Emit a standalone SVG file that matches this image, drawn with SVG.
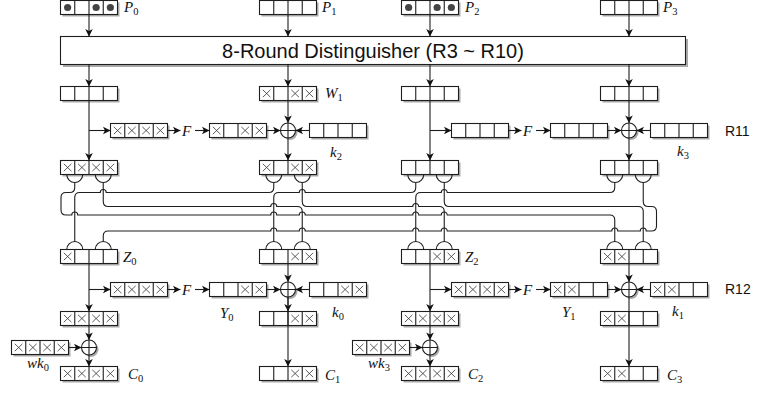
<svg xmlns="http://www.w3.org/2000/svg" width="757" height="396" viewBox="0 0 757 396">
<style>
.ln{fill:none;stroke:#1e1e1e;stroke-width:1.1}
.ar{fill:none;stroke:#1e1e1e;stroke-width:1.1;marker-end:url(#ah)}
.m{font-family:"Liberation Serif","DejaVu Serif",serif;font-style:italic;font-size:15px;fill:#111}
.s{font-style:normal;font-size:10.5px}
.t{font-family:"Liberation Sans",Arial,sans-serif;fill:#111}
</style>
<defs>
<marker id="ah" viewBox="-8 -4.5 9 9" refX="0" refY="0" markerWidth="9" markerHeight="9" markerUnits="userSpaceOnUse" orient="auto"><path d="M0,0 L-7.5,-3.8 L-5.6,0 L-7.5,3.8Z" fill="#111"/></marker>
<g id="bx"><rect x="2" y="2" width="57" height="14" fill="#aaa"/><rect width="57" height="14" fill="#fff" stroke="#1e1e1e" stroke-width="1.1"/><path d="M14.25 0V14M28.5 0V14M42.75 0V14" stroke="#1e1e1e" stroke-width="1.1"/></g>
<path id="x" d="M3.3 3.3L10.95 10.7M10.95 3.3L3.3 10.7" stroke="#333" stroke-width="0.8" fill="none"/>
<circle id="dt" cx="7.125" cy="7" r="3.6" fill="#444"/>
<g id="xo"><circle cx="2" cy="2" r="7.5" fill="#aaa"/><circle r="7.5" fill="#fff" stroke="#1e1e1e" stroke-width="1.1"/><path d="M-7.5 0H7.5M0 -7.5V7.5" stroke="#1e1e1e" stroke-width="1.1"/></g>
</defs>
<rect width="757" height="396" fill="#fff"/>

<!-- Row 1 -->
<g id="P0"><use href="#bx" x="60.5" y="0.5"/><use href="#dt" x="60.5" y="0.5"/><use href="#dt" x="89" y="0.5"/><use href="#dt" x="103.25" y="0.5"/><text class="m" x="124" y="12">P<tspan class="s" dy="3">0</tspan></text></g>
<g id="P1"><use href="#bx" x="259.5" y="0.5"/><text class="m" x="322" y="12">P<tspan class="s" dy="3">1</tspan></text></g>
<g id="P2"><use href="#bx" x="401.5" y="0.5"/><use href="#dt" x="401.5" y="0.5"/><use href="#dt" x="430" y="0.5"/><use href="#dt" x="444.25" y="0.5"/><text class="m" x="465" y="12">P<tspan class="s" dy="3">2</tspan></text></g>
<g id="P3"><use href="#bx" x="600.5" y="0.5"/><text class="m" x="663" y="12">P<tspan class="s" dy="3">3</tspan></text></g>

<g id="dist"><rect x="63" y="39" width="625" height="28" fill="#aaa"/><rect x="60.5" y="36.5" width="625" height="28" fill="#fff" stroke="#1e1e1e" stroke-width="1.1"/><text class="t" x="373" y="57.5" font-size="20" text-anchor="middle">8-Round Distinguisher (R3 ~ R10)</text></g>

<!-- Row 2 -->
<g id="r2c0"><use href="#bx" x="60.5" y="86.5"/></g>
<g id="W1"><use href="#bx" x="259.5" y="86.5"/><use href="#x" x="259.5" y="86.5"/><use href="#x" x="288" y="86.5"/><use href="#x" x="302.25" y="86.5"/><text class="m" x="325" y="98">W<tspan class="s" dy="3">1</tspan></text></g>
<g id="r2c2"><use href="#bx" x="401.5" y="86.5"/></g>
<g id="r2c3"><use href="#bx" x="600.5" y="86.5"/></g>

<!-- R11 F row -->
<g id="r11in0"><use href="#bx" x="110.5" y="123.5"/><use href="#x" x="110.5" y="123.5"/><use href="#x" x="124.75" y="123.5"/><use href="#x" x="139" y="123.5"/><use href="#x" x="153.25" y="123.5"/></g>
<g id="r11F0"><text class="m" x="182" y="136">F</text></g>
<g id="r11out0"><use href="#bx" x="209.5" y="123.5"/><use href="#x" x="209.5" y="123.5"/><use href="#x" x="238" y="123.5"/><use href="#x" x="252.25" y="123.5"/></g>
<g id="r11xor1"><use href="#xo" x="288" y="130.5"/></g>
<g id="k2"><use href="#bx" x="309.5" y="123.5"/><text class="m" x="330" y="157">k<tspan class="s" dy="3">2</tspan></text></g>
<g id="r11in2"><use href="#bx" x="451.5" y="123.5"/></g>
<g id="r11F2"><text class="m" x="523" y="136">F</text></g>
<g id="r11out2"><use href="#bx" x="550.5" y="123.5"/></g>
<g id="r11xor3"><use href="#xo" x="629" y="130.5"/></g>
<g id="k3"><use href="#bx" x="650.5" y="123.5"/><text class="m" x="677" y="156">k<tspan class="s" dy="3">3</tspan></text></g>
<g id="R11"><text class="t" x="725" y="135.5" font-size="14">R11</text></g>

<!-- Row 4 -->
<g id="r4c0"><use href="#bx" x="60.5" y="160.5"/><use href="#x" x="60.5" y="160.5"/><use href="#x" x="74.75" y="160.5"/><use href="#x" x="89" y="160.5"/><use href="#x" x="103.25" y="160.5"/></g>
<g id="r4c1"><use href="#bx" x="259.5" y="160.5"/><use href="#x" x="259.5" y="160.5"/><use href="#x" x="288" y="160.5"/><use href="#x" x="302.25" y="160.5"/></g>
<g id="r4c2"><use href="#bx" x="401.5" y="160.5"/></g>
<g id="r4c3"><use href="#bx" x="600.5" y="160.5"/></g>

<!-- Row 5 -->
<g id="Z0"><use href="#bx" x="60.5" y="249.5"/><use href="#x" x="60.5" y="249.5"/><text class="m" x="123" y="262">Z<tspan class="s" dy="3">0</tspan></text></g>
<g id="r5c1"><use href="#bx" x="259.5" y="249.5"/><use href="#x" x="288" y="249.5"/><use href="#x" x="302.25" y="249.5"/></g>
<g id="Z2"><use href="#bx" x="401.5" y="249.5"/><use href="#x" x="430" y="249.5"/><use href="#x" x="444.25" y="249.5"/><text class="m" x="465" y="261.5">Z<tspan class="s" dy="3">2</tspan></text></g>
<g id="r5c3"><use href="#bx" x="600.5" y="249.5"/><use href="#x" x="600.5" y="249.5"/><use href="#x" x="614.75" y="249.5"/></g>

<!-- R12 F row -->
<g id="r12in0"><use href="#bx" x="110.5" y="282.5"/><use href="#x" x="110.5" y="282.5"/><use href="#x" x="124.75" y="282.5"/><use href="#x" x="139" y="282.5"/><use href="#x" x="153.25" y="282.5"/></g>
<g id="r12F0"><text class="m" x="182" y="295">F</text></g>
<g id="Y0"><use href="#bx" x="209.5" y="282.5"/><use href="#x" x="238" y="282.5"/><use href="#x" x="252.25" y="282.5"/><text class="m" x="220" y="318">Y<tspan class="s" dy="3">0</tspan></text></g>
<g id="r12xor1"><use href="#xo" x="288" y="289.5"/></g>
<g id="k0"><use href="#bx" x="309.5" y="282.5"/><use href="#x" x="338" y="282.5"/><use href="#x" x="352.25" y="282.5"/><text class="m" x="332" y="317">k<tspan class="s" dy="3">0</tspan></text></g>
<g id="r12in2"><use href="#bx" x="451.5" y="282.5"/><use href="#x" x="451.5" y="282.5"/><use href="#x" x="465.75" y="282.5"/><use href="#x" x="480" y="282.5"/><use href="#x" x="494.25" y="282.5"/></g>
<g id="r12F2"><text class="m" x="523" y="295">F</text></g>
<g id="Y1"><use href="#bx" x="550.5" y="282.5"/><use href="#x" x="550.5" y="282.5"/><use href="#x" x="564.75" y="282.5"/><text class="m" x="562" y="317">Y<tspan class="s" dy="3">1</tspan></text></g>
<g id="r12xor3"><use href="#xo" x="629" y="289.5"/></g>
<g id="k1"><use href="#bx" x="650.5" y="282.5"/><use href="#x" x="650.5" y="282.5"/><use href="#x" x="664.75" y="282.5"/><text class="m" x="672" y="316">k<tspan class="s" dy="3">1</tspan></text></g>
<g id="R12"><text class="t" x="725" y="294" font-size="14">R12</text></g>

<!-- Row 7 -->
<g id="r7c0"><use href="#bx" x="60.5" y="311.5"/><use href="#x" x="60.5" y="311.5"/><use href="#x" x="74.75" y="311.5"/><use href="#x" x="89" y="311.5"/><use href="#x" x="103.25" y="311.5"/></g>
<g id="r7c1"><use href="#bx" x="259.5" y="311.5"/><use href="#x" x="288" y="311.5"/><use href="#x" x="302.25" y="311.5"/></g>
<g id="r7c2"><use href="#bx" x="401.5" y="311.5"/><use href="#x" x="401.5" y="311.5"/><use href="#x" x="415.75" y="311.5"/><use href="#x" x="430" y="311.5"/><use href="#x" x="444.25" y="311.5"/></g>
<g id="r7c3"><use href="#bx" x="600.5" y="311.5"/><use href="#x" x="600.5" y="311.5"/><use href="#x" x="614.75" y="311.5"/></g>

<!-- Whitening -->
<g id="wxor0"><use href="#xo" x="89" y="347.5"/></g>
<g id="wk0"><use href="#bx" x="11.5" y="340.5"/><use href="#x" x="11.5" y="340.5"/><use href="#x" x="25.75" y="340.5"/><use href="#x" x="40" y="340.5"/><use href="#x" x="54.25" y="340.5"/><text class="m" x="27" y="368">wk<tspan class="s" dy="3">0</tspan></text></g>
<g id="wxor2"><use href="#xo" x="430" y="347.5"/></g>
<g id="wk3"><use href="#bx" x="352.5" y="340.5"/><use href="#x" x="352.5" y="340.5"/><use href="#x" x="366.75" y="340.5"/><use href="#x" x="381" y="340.5"/><use href="#x" x="395.25" y="340.5"/><text class="m" x="368" y="368">wk<tspan class="s" dy="3">3</tspan></text></g>

<!-- Outputs -->
<g id="C0"><use href="#bx" x="60.5" y="366.5"/><use href="#x" x="60.5" y="366.5"/><use href="#x" x="74.75" y="366.5"/><use href="#x" x="89" y="366.5"/><use href="#x" x="103.25" y="366.5"/><text class="m" x="128" y="379">C<tspan class="s" dy="3">0</tspan></text></g>
<g id="C1"><use href="#bx" x="259.5" y="366.5"/><use href="#x" x="288" y="366.5"/><use href="#x" x="302.25" y="366.5"/><text class="m" x="325" y="380">C<tspan class="s" dy="3">1</tspan></text></g>
<g id="C2"><use href="#bx" x="401.5" y="366.5"/><use href="#x" x="401.5" y="366.5"/><use href="#x" x="415.75" y="366.5"/><use href="#x" x="430" y="366.5"/><use href="#x" x="444.25" y="366.5"/><text class="m" x="468" y="379">C<tspan class="s" dy="3">2</tspan></text></g>
<g id="C3"><use href="#bx" x="600.5" y="366.5"/><use href="#x" x="600.5" y="366.5"/><use href="#x" x="614.75" y="366.5"/><text class="m" x="667" y="380">C<tspan class="s" dy="3">3</tspan></text></g>

<g id="connectors">
<path class="ar" d="M89 14.5V36.5"/><path class="ar" d="M288 14.5V36.5"/><path class="ar" d="M430 14.5V36.5"/><path class="ar" d="M629 14.5V36.5"/>
<path class="ar" d="M89 64.5V86.5"/><path class="ar" d="M288 64.5V86.5"/><path class="ar" d="M430 64.5V86.5"/><path class="ar" d="M629 64.5V86.5"/>
<path class="ar" d="M89 100.5V160.5"/><path class="ar" d="M89 130.5H110.5"/><path class="ar" d="M167.5 130.5H180.5"/><path class="ar" d="M195 130.5H209.5"/><path class="ar" d="M266.5 130.5H280.5"/><path class="ar" d="M309.5 130.5H295.5"/>
<path class="ar" d="M288 100.5V123"/><path class="ar" d="M288 138V160.5"/>
<path class="ar" d="M430 100.5V160.5"/><path class="ar" d="M430 130.5H451.5"/><path class="ar" d="M508.5 130.5H521.5"/><path class="ar" d="M536 130.5H550.5"/><path class="ar" d="M607.5 130.5H621.5"/><path class="ar" d="M650.5 130.5H636.5"/>
<path class="ar" d="M629 100.5V123"/><path class="ar" d="M629 138V160.5"/>
<path class="ln" d="M66.75 174.5A8 8 0 0 0 82.75 174.5M95.25 174.5A8 8 0 0 0 111.25 174.5M265.75 174.5A8 8 0 0 0 281.75 174.5M294.25 174.5A8 8 0 0 0 310.25 174.5M407.75 174.5A8 8 0 0 0 423.75 174.5M436.25 174.5A8 8 0 0 0 452.25 174.5M606.75 174.5A8 8 0 0 0 622.75 174.5M635.25 174.5A8 8 0 0 0 651.25 174.5"/>
<path class="ln" d="M66.75 249.5A8 8 0 0 1 82.75 249.5M95.25 249.5A8 8 0 0 1 111.25 249.5M265.75 249.5A8 8 0 0 1 281.75 249.5M294.25 249.5A8 8 0 0 1 310.25 249.5M407.75 249.5A8 8 0 0 1 423.75 249.5M436.25 249.5A8 8 0 0 1 452.25 249.5M606.75 249.5A8 8 0 0 1 622.75 249.5M635.25 249.5A8 8 0 0 1 651.25 249.5"/>
<path class="ln" d="M74.75 182.5V187.5Q74.75 192.5 69.75 192.5H66Q61 192.5 61 197.5V210Q61 215 66 215H71.75A3 3 0 0 1 77.75 215H270.75A3 3 0 0 1 276.75 215H299.25A3 3 0 0 1 305.25 215H412.75A3 3 0 0 1 418.75 215H441.25A3 3 0 0 1 447.25 215H609.75Q614.75 215 614.75 220V241.5"/>
<path class="ln" d="M103.25 182.5V201.5Q103.25 206.5 108.25 206.5H270.75A3 3 0 0 1 276.75 206.5H297.25Q302.25 206.5 302.25 211.5V241.5"/>
<path class="ln" d="M273.75 182.5V187.5Q273.75 192.5 268.75 192.5H106.25A3 3 0 0 0 100.25 192.5H79.75Q74.75 192.5 74.75 197.5V241.5"/>
<path class="ln" d="M302.25 182.5V201.5Q302.25 206.5 307.25 206.5H412.75A3 3 0 0 1 418.75 206.5H439.25Q444.25 206.5 444.25 211.5V241.5"/>
<path class="ln" d="M415.75 182.5V187.5Q415.75 192.5 410.75 192.5H305.25A3 3 0 0 0 299.25 192.5H278.75Q273.75 192.5 273.75 197.5V241.5"/>
<path class="ln" d="M444.25 182.5V201.5Q444.25 206.5 449.25 206.5H638.25Q643.25 206.5 643.25 211.5V241.5"/>
<path class="ln" d="M614.75 182.5V187.5Q614.75 192.5 609.75 192.5H447.25A3 3 0 0 0 441.25 192.5H420.75Q415.75 192.5 415.75 197.5V241.5"/>
<path class="ln" d="M643.25 182.5V201.5Q643.25 206.5 648.25 206.5H651.5Q656.5 206.5 656.5 211.5V226Q656.5 231 651.5 231H646.25A3 3 0 0 0 640.25 231H617.75A3 3 0 0 0 611.75 231H447.25A3 3 0 0 0 441.25 231H418.75A3 3 0 0 0 412.75 231H305.25A3 3 0 0 0 299.25 231H276.75A3 3 0 0 0 270.75 231H108.25Q103.25 231 103.25 236V241.5"/>
<path class="ar" d="M89 263.5V311.5"/><path class="ar" d="M89 289.5H110.5"/><path class="ar" d="M167.5 289.5H180.5"/><path class="ar" d="M195 289.5H209.5"/><path class="ar" d="M266.5 289.5H280.5"/><path class="ar" d="M309.5 289.5H295.5"/>
<path class="ar" d="M288 263.5V282"/><path class="ar" d="M288 297V311.5"/><path class="ar" d="M288 297V366.5"/>
<path class="ar" d="M430 263.5V311.5"/><path class="ar" d="M430 289.5H451.5"/><path class="ar" d="M508.5 289.5H521.5"/><path class="ar" d="M536 289.5H550.5"/><path class="ar" d="M607.5 289.5H621.5"/><path class="ar" d="M650.5 289.5H636.5"/>
<path class="ar" d="M629 263.5V282"/><path class="ar" d="M629 297V366.5"/>
<path class="ar" d="M89 325.5V340"/><path class="ar" d="M89 355V366.5"/><path class="ar" d="M68.5 347.5H81.5"/>
<path class="ar" d="M430 325.5V340"/><path class="ar" d="M430 355V366.5"/><path class="ar" d="M409.5 347.5H422.5"/>
</g>
</svg>
